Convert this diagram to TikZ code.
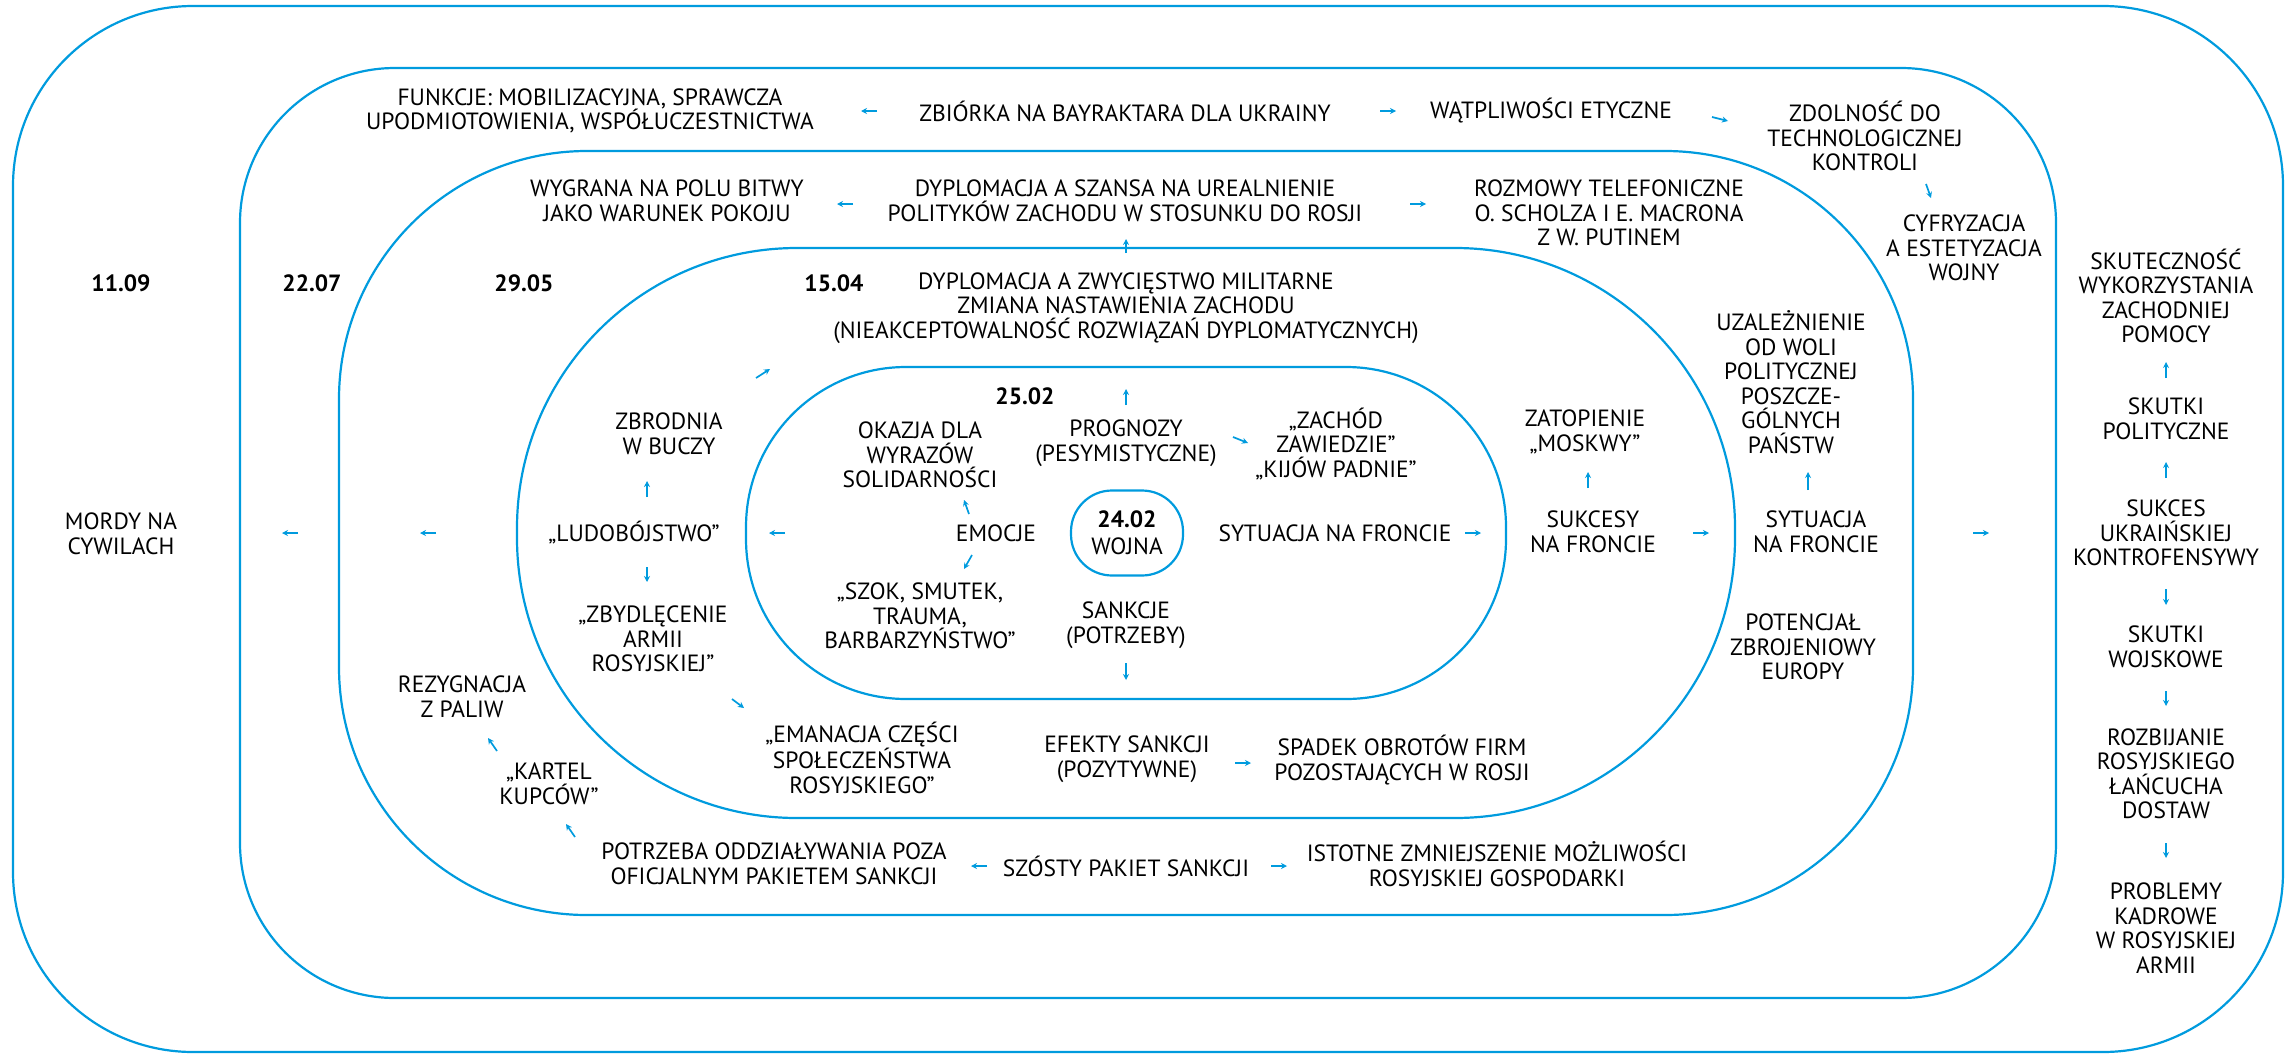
\documentclass[tikz,border=0pt]{standalone}
\usepackage{fontspec}
\setmainfont{PT Sans}
\usetikzlibrary{arrows.meta}
\definecolor{lblue}{RGB}{0,155,222}
\begin{document}
\begin{tikzpicture}[x=1pt,y=-1pt,
  frame/.style={draw=lblue, line width=2.2pt},
  txt/.style={align=center, inner sep=0pt, font=\fontsize{23.5}{24.5}\selectfont},
  date/.style={align=center, inner sep=0pt, font=\fontsize{23.5}{24.5}\selectfont\bfseries},
  arr/.style={draw=lblue, line width=1.7pt, -{Stealth[length=6pt,width=6pt]}}]
\useasboundingbox (0,0) rectangle (2289,1058);
% frames
\draw[frame, rounded corners=180pt] (13,6) rectangle (2283,1052);
\draw[frame, rounded corners=155pt] (240,68) rectangle (2056,998);
\draw[frame, rounded corners=248pt] (339,151) rectangle (1913,915);
\draw[frame, rounded corners=280pt] (517,248) rectangle (1735,818);
\draw[frame, rounded corners=160pt] (746,367) rectangle (1506,699);
\node[frame, rectangle, rounded corners=41pt, minimum width=112pt, minimum height=85pt, align=center, inner sep=0pt, font=\fontsize{23.5}{27}\selectfont] (wojna) at (1127,533) {\textbf{24.02}\\WOJNA};
% dates
\node[date] (d1109) at (121,283) {11.09};
\node[date] (d2207) at (312,283) {22.07};
\node[date] (d2905) at (524,283) {29.05};
\node[date] (d1504) at (834,283) {15.04};
\node[date] (d2502) at (1025,396) {25.02};
% texts
\node[txt] (mordy) at (121,534) {MORDY NA\\CYWILACH};
\node[txt] (funkcje) at (590,111) {FUNKCJE: MOBILIZACYJNA, SPRAWCZA\\UPODMIOTOWIENIA, WSPÓŁUCZESTNICTWA};
\node[txt] (zbiorka) at (1125,111) {ZBIÓRKA NA BAYRAKTARA DLA UKRAINY};
\node[txt] (watpl) at (1551,111) {WĄTPLIWOŚCI ETYCZNE};
\node[txt] (zdolnosc) at (1865,136) {ZDOLNOŚĆ DO\\TECHNOLOGICZNEJ\\KONTROLI};
\node[txt] (cyfr) at (1964,248) {CYFRYZACJA\\A ESTETYZACJA\\WOJNY};
\node[txt] (wygrana) at (667,201) {WYGRANA NA POLU BITWY\\JAKO WARUNEK POKOJU};
\node[txt] (dypl1) at (1125,201) {DYPLOMACJA A SZANSA NA UREALNIENIE\\POLITYKÓW ZACHODU W STOSUNKU DO ROSJI};
\node[txt] (rozmowy) at (1609,213) {ROZMOWY TELEFONICZNE\\O. SCHOLZA I E. MACRONA\\Z W. PUTINEM};
\node[txt] (dypl2) at (1126,308) {DYPLOMACJA A ZWYCIĘSTWO MILITARNE\\ZMIANA NASTAWIENIA ZACHODU\\(NIEAKCEPTOWALNOŚĆ ROZWIĄZAŃ DYPLOMATYCZNYCH)};
\node[txt] (zbrodnia) at (669,434) {ZBRODNIA\\W BUCZY};
\node[txt] (okazja) at (920,455) {OKAZJA DLA\\WYRAZÓW\\SOLIDARNOŚCI};
\node[txt] (prognozy) at (1126,443) {PROGNOZY\\(PESYMISTYCZNE)};
\node[txt] (zachod) at (1336,444) {„ZACHÓD\\ZAWIEDZIE”\\„KIJÓW PADNIE”};
\node[txt] (ludob) at (634,533) {„LUDOBÓJSTWO”};
\node[txt] (emocje) at (996,533) {EMOCJE};
\node[txt] (szok) at (920,616) {„SZOK, SMUTEK,\\TRAUMA,\\BARBARZYŃSTWO”};
\node[txt] (zbydl) at (653,639) {„ZBYDLĘCENIE\\ARMII\\ROSYJSKIEJ”};
\node[txt] (sankcje) at (1126,625) {SANKCJE\\(POTRZEBY)};
\node[txt] (rezyg) at (462,697) {REZYGNACJA\\Z PALIW};
\node[txt] (emanacja) at (862,758) {„EMANACJA CZĘŚCI\\SPOŁECZEŃSTWA\\ROSYJSKIEGO”};
\node[txt] (efekty) at (1127,759) {EFEKTY SANKCJI\\(POZYTYWNE)};
\node[txt] (spadek) at (1402,760) {SPADEK OBROTÓW FIRM\\POZOSTAJĄCYCH W ROSJI};
\node[txt] (kartel) at (549,784) {„KARTEL\\KUPCÓW”};
\node[txt] (potrzeba) at (774,864) {POTRZEBA ODDZIAŁYWANIA POZA\\OFICJALNYM PAKIETEM SANKCJI};
\node[txt] (szosty) at (1126,866) {SZÓSTY PAKIET SANKCJI};
\node[txt] (istotne) at (1497,864) {ISTOTNE ZMNIEJSZENIE MOŻLIWOŚCI\\ROSYJSKIEJ GOSPODARKI};
\node[txt] (sytfront) at (1335,533) {SYTUACJA NA FRONCIE};
\node[txt] (zatop) at (1585,432) {ZATOPIENIE\\„MOSKWY”};
\node[txt] (sukcesy) at (1593,532) {SUKCESY\\NA FRONCIE};
\node[txt] (uzalez) at (1791,382) {UZALEŻNIENIE\\OD WOLI\\POLITYCZNEJ\\POSZCZE-\\GÓLNYCH\\PAŃSTW};
\node[txt] (sytfront2) at (1816,532) {SYTUACJA\\NA FRONCIE};
\node[txt] (potencjal) at (1803,647) {POTENCJAŁ\\ZBROJENIOWY\\EUROPY};
\node[txt] (skutecz) at (2166,296) {SKUTECZNOŚĆ\\WYKORZYSTANIA\\ZACHODNIEJ\\POMOCY};
\node[txt] (skutkipol) at (2166,419) {SKUTKI\\POLITYCZNE};
\node[txt] (sukces) at (2166,533) {SUKCES\\UKRAIŃSKIEJ\\KONTROFENSYWY};
\node[txt] (skutkiwoj) at (2166,647) {SKUTKI\\WOJSKOWE};
\node[txt] (rozbij) at (2166,774) {ROZBIJANIE\\ROSYJSKIEGO\\ŁAŃCUCHA\\DOSTAW};
\node[txt] (problemy) at (2166,928) {PROBLEMY\\KADROWE\\W ROSYJSKIEJ\\ARMII};
% arrows
\foreach \i/\ax/\ay/\bx/\by in {1/298/533/282/533, 2/436/533/420/533, 3/785/533/769/533, 4/877/111/861/111, 5/1380/111/1396/111, 6/1712/117/1728/121, 7/1926/184/1931/198, 8/853/204/837/204, 9/1410/204/1426/204, 10/1126/253/1126/239, 11/756/378/770/369, 12/1126/405/1126/389, 13/647/497/647/481, 14/969/514/964/500, 15/972/555/964/569, 16/647/567/647/582, 17/1233/437/1248/443, 18/1126/663/1126/680, 19/732/699/744/708, 20/497/751/488/738, 21/575/837/566/824, 22/987/866/971/866, 23/1271/866/1287/866, 24/1235/763/1251/763, 25/1465/533/1481/533, 26/1693/533/1709/533, 27/1973/533/1989/533, 28/1588/488/1588/472, 29/1808/490/1808/472, 30/2166/378/2166/362, 31/2166/478/2166/462, 32/2166/589/2166/605, 33/2166/691/2166/706, 34/2166/843/2166/858}
{
  \coordinate (as\i) at (\ax,\ay);
  \coordinate (ae\i) at (\bx,\by);
  \draw[arr] (as\i) -- (ae\i);
}
\end{tikzpicture}
\end{document}
